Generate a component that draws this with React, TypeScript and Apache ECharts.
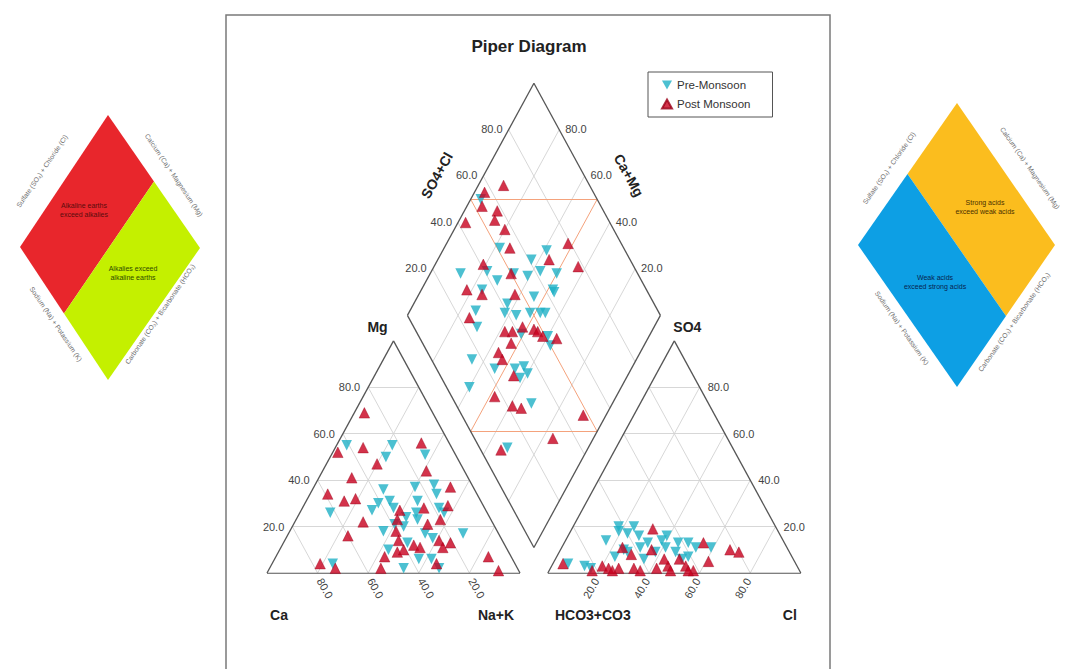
import React, { useEffect, useRef } from "react";
import * as echarts from "echarts";

// ---------------- data ----------------
const TICKS = [20, 40, 60, 80];
const TICK_LABELS = ["20.0", "40.0", "60.0", "80.0"];
const SERIES_NAMES = ["Pre-Monsoon", "Post Monsoon"];

// cations (% meq): [Ca, Mg, Na+K]
const preCations = [
  [41, 55, 4], [23, 55, 22], [28, 50, 22], [12, 51, 37], [36, 36, 28], [23, 37, 40],
  [25, 31, 44], [15, 38, 47], [16, 34, 50], [62, 26, 12], [41, 30, 29], [45, 27, 28],
  [36, 31, 33], [36, 28, 36], [33, 24, 43], [29, 23, 48], [18, 28, 54], [45, 18, 37],
  [39, 21, 40], [36, 20, 44], [29, 17, 54], [27, 15, 58], [14, 17, 69], [47, 10, 43],
  [38, 13, 49], [37, 6, 57], [32, 6, 62], [45, 2, 53], [31, 2, 67], [72, 4, 24],
  [28, 26, 46], [17, 26, 57],
];
const postCations = [
  [27, 69, 4], [46, 52, 2], [35, 54, 11], [33, 47, 20], [46, 41, 13], [11, 56, 33],
  [15, 44, 41], [59, 34, 7], [54, 31, 15], [49, 32, 19], [9, 37, 54], [14, 29, 57],
  [51, 22, 27], [60, 16, 24], [34, 27, 39], [24, 28, 48], [37, 23, 40], [20, 23, 57],
  [40, 18, 42], [41, 14, 45], [44, 9, 47], [36, 12, 52], [34, 11, 55], [25, 14, 61],
  [25, 11, 64], [21, 13, 66], [50, 7, 43], [54, 2, 44], [77, 4, 19], [72, 2, 26],
  [31, 4, 65], [9, 7, 84], [8, 1, 91], [26, 21, 53], [41, 10, 49],
];

// anions (% meq): [HCO3+CO3, SO4, Cl]
const preAnions = [
  [90, 4, 6], [84, 3, 13], [70, 14, 16], [63, 18, 19], [65, 10, 25], [60, 17, 23],
  [56, 16, 28], [58, 11, 31], [54, 13, 33], [48, 14, 38], [45, 16, 39], [48, 11, 41],
  [42, 13, 45], [38, 13, 49], [36, 11, 53], [30, 11, 59], [70, 7, 23], [64, 9, 27],
  [59, 6, 35], [53, 9, 38], [45, 9, 46], [44, 6, 50], [41, 7, 52], [62, 20, 18],
  [56, 20, 24], [82, 2, 16],
];
const postAnions = [
  [92, 4, 4], [82, 1, 17], [77, 3, 20], [75, 2, 23], [71, 2, 27], [65, 11, 24],
  [63, 8, 29], [65, 2, 33], [49, 19, 32], [54, 10, 36], [56, 2, 42], [51, 3, 46],
  [51, 1, 48], [45, 6, 49], [44, 3, 53], [42, 1, 57], [32, 13, 55], [34, 5, 61],
  [23, 10, 67], [20, 9, 71], [44, 1, 55], [74, 1, 25], [63, 1, 36], [51, 6, 43],
];

// diamond: [SO4+Cl, Ca+Mg]
const preDiamond = [
  [54, 96], [51, 78], [69, 59], [61, 63], [30, 88], [41, 78], [43, 72], [51, 67],
  [56, 61], [62, 57], [68, 50], [63, 48], [54, 54], [42, 63], [35, 76], [28, 74],
  [39, 62], [43, 57], [49, 52], [53, 48], [55, 46], [25, 70], [41, 51], [51, 40],
  [50, 37], [16, 65], [23, 54], [31, 46], [35, 43], [35, 40], [31, 42], [9, 60],
  [30, 32], [11, 32], [63, 47],
];
const postDiamond = [
  [57, 96], [66, 90], [53, 94], [58, 87], [55, 86], [57, 80], [43, 97], [55, 74],
  [79, 52], [68, 56], [78, 43], [41, 81], [29, 82], [34, 75], [47, 62], [50, 68],
  [24, 75], [35, 58], [38, 55], [43, 52], [47, 47], [48, 45], [49, 42], [54, 36],
  [35, 53], [28, 56], [28, 53], [29, 45], [17, 48], [22, 39], [25, 35], [48, 9],
  [31, 16], [8, 34],
];

// ---------------- geometry helpers (piper layout in unit space) ----------------
const GAP = 0.11;
const H = Math.sqrt(3) / 2;
const cat = (ca: number, mg: number, nak: number) => [nak / 100 + mg / 200, (mg / 100) * H];
const ani = (hco3: number, so4: number, cl: number) => [1 + GAP + cl / 100 + so4 / 200, (so4 / 100) * H];
const dia = (s: number, c: number) => [1 + GAP / 2 + (s - c) / 200, GAP * H + (H * (s + c)) / 100];

const FONT = 'Arial, "Liberation Sans", sans-serif';
const PRE_COLOR = "#1fb0c6";
const POST_COLOR = "#c8001e";
const DOWN_TRI = "path://M0,0 L10,0 L5,9 Z";
const UP_TRI = "path://M5,0 L10,9 L0,9 Z";

function buildSegments() {
  const outline: any[] = [];
  const grid: any[] = [];
  const facies: any[] = [];
  const seg = (a: number[], b: number[]) => ({ coords: [a, b] });
  outline.push(seg(cat(100, 0, 0), cat(0, 0, 100)), seg(cat(0, 0, 100), cat(0, 100, 0)), seg(cat(0, 100, 0), cat(100, 0, 0)));
  outline.push(seg(ani(100, 0, 0), ani(0, 0, 100)), seg(ani(0, 0, 100), ani(0, 100, 0)), seg(ani(0, 100, 0), ani(100, 0, 0)));
  outline.push(seg(dia(0, 0), dia(0, 100)), seg(dia(0, 100), dia(100, 100)), seg(dia(100, 100), dia(100, 0)), seg(dia(100, 0), dia(0, 0)));
  TICKS.forEach((k) => {
    grid.push(seg(cat(100 - k, k, 0), cat(0, k, 100 - k)));
    grid.push(seg(cat(k, 100 - k, 0), cat(k, 0, 100 - k)));
    grid.push(seg(cat(0, 100 - k, k), cat(100 - k, 0, k)));
    grid.push(seg(ani(100 - k, k, 0), ani(0, k, 100 - k)));
    grid.push(seg(ani(k, 100 - k, 0), ani(k, 0, 100 - k)));
    grid.push(seg(ani(0, 100 - k, k), ani(100 - k, 0, k)));
    grid.push(seg(dia(k, 0), dia(k, 100)));
    grid.push(seg(dia(0, k), dia(100, k)));
  });
  facies.push(seg(dia(50, 0), dia(50, 100)), seg(dia(0, 50), dia(100, 50)), seg(dia(50, 100), dia(100, 50)), seg(dia(0, 50), dia(50, 0)));
  return { outline, grid, facies };
}

function points(c: number[][], a: number[][], d: number[][]) {
  return [
    ...c.map((p) => cat(p[0], p[1], p[2])),
    ...a.map((p) => ani(p[0], p[1], p[2])),
    ...d.map((p) => dia(p[0], p[1])),
  ];
}

function txt(x: number, y: number, text: string, o: any = {}) {
  return {
    type: "text",
    x,
    y,
    rotation: o.rotation || 0,
    z: 10,
    silent: true,
    style: {
      text,
      fontSize: o.size || 11,
      fontFamily: FONT,
      fontWeight: o.bold ? "bold" : "normal",
      fill: o.color || "#444",
      align: o.align || "center",
      verticalAlign: o.valign || "middle",
      lineHeight: o.lineHeight,
    },
  };
}

function sideDiamonds() {
  const els: any[] = [];
  const poly = (pts: number[][], fill: string) => ({ type: "polygon", silent: true, shape: { points: pts }, style: { fill, stroke: null } });
  // left legend diamond
  const lt = [108, 115], lr = [200, 248], lb = [108, 380], ll = [20, 247];
  const lmUR = [(lt[0] + lr[0]) / 2, (lt[1] + lr[1]) / 2];
  const lmLL = [(ll[0] + lb[0]) / 2, (ll[1] + lb[1]) / 2];
  els.push(poly([lt, lmUR, lmLL, ll], "#e8262c"));
  els.push(poly([lmUR, lr, lb, lmLL], "#c4f000"));
  const a1 = (56 * Math.PI) / 180;
  const edge = { size: 6.8, color: "#6f6f6f" };
  els.push(txt(42, 171, "Sulfate (SO₄) + Chloride (Cl)", { ...edge, rotation: a1 }));
  els.push(txt(174, 175, "Calcium (Ca) + Magnesium (Mg)", { ...edge, rotation: -a1 }));
  els.push(txt(56, 324, "Sodium (Na) + Potassium (K)", { ...edge, rotation: -a1 }));
  els.push(txt(160, 314, "Carbonate (CO₃) + Bicarbonate (HCO₃)", { ...edge, rotation: a1 }));
  els.push(txt(84, 210, "Alkaline earths\nexceed alkalies", { size: 7, color: "#5a0c0c", lineHeight: 9 }));
  els.push(txt(133, 273, "Alkalies exceed\nalkaline earths", { size: 7, color: "#2f4a00", lineHeight: 9 }));

  // right legend diamond
  const rt = [957, 103], rr = [1055, 245], rb = [957, 387], rl = [858, 245];
  const rmUL = [(rt[0] + rl[0]) / 2, (rt[1] + rl[1]) / 2];
  const rmLR = [(rr[0] + rb[0]) / 2, (rr[1] + rb[1]) / 2];
  els.push(poly([rt, rr, rmLR, rmUL], "#fbbd1e"));
  els.push(poly([rmUL, rmLR, rb, rl], "#0d9fe4"));
  const a2 = (55 * Math.PI) / 180;
  els.push(txt(889, 168, "Sulfate (SO₄) + Chloride (Cl)", { ...edge, rotation: a2 }));
  els.push(txt(1030, 168, "Calcium (Ca) + Magnesium (Mg)", { ...edge, rotation: -a2 }));
  els.push(txt(902, 328, "Sodium (Na) + Potassium (K)", { ...edge, rotation: -a2 }));
  els.push(txt(1014, 322, "Carbonate (CO₃) + Bicarbonate (HCO₃)", { ...edge, rotation: a2 }));
  els.push(txt(985, 207, "Strong acids\nexceed weak acids", { size: 7, color: "#4a3000", lineHeight: 9 }));
  els.push(txt(935, 282, "Weak acids\nexceed strong acids", { size: 7, color: "#082450", lineHeight: 9 }));
  return els;
}

export default function App() {
  const ref = useRef<HTMLDivElement>(null);
  useEffect(() => {
    if (!ref.current) return;
    const chart = echarts.init(ref.current, null, { renderer: "svg" });
    const { outline, grid, facies } = buildSegments();
    const lineSeries = (data: any[], color: string, width: number, z: number) => ({
      type: "lines",
      coordinateSystem: "cartesian2d",
      polyline: false,
      silent: true,
      z,
      lineStyle: { color, width, opacity: 1, type: "solid" },
      data,
    });
    chart.setOption({
      animation: false,
      backgroundColor: "#ffffff",
      grid: { left: 267, top: 37, width: 2.2 * 253, height: 2 * 268, containLabel: false },
      xAxis: { type: "value", min: 0, max: 2.2, show: false },
      yAxis: { type: "value", min: 0, max: 2, show: false },
      legend: {
        orient: "vertical",
        left: 648,
        top: 72,
        data: [
          { name: SERIES_NAMES[0], icon: DOWN_TRI },
          { name: SERIES_NAMES[1], icon: UP_TRI },
        ],
        borderColor: "#555",
        borderWidth: 1,
        borderRadius: 0,
        padding: [7, 22, 7, 13],
        itemGap: 7,
        itemWidth: 10,
        itemHeight: 9,
        textStyle: { fontSize: 11.5, color: "#333", fontFamily: FONT },
      },
      series: [
        lineSeries(grid, "#d2d2d2", 0.9, 1),
        lineSeries(facies, "#f4a27c", 1, 2),
        lineSeries(outline, "#555555", 1.3, 3),
        {
          name: SERIES_NAMES[0],
          type: "scatter",
          symbol: "triangle",
          symbolRotate: 180,
          symbolSize: 10.5,
          z: 5,
          itemStyle: { color: PRE_COLOR },
          data: points(preCations, preAnions, preDiamond),
        },
        {
          name: SERIES_NAMES[1],
          type: "scatter",
          symbol: "triangle",
          symbolSize: 10.5,
          z: 6,
          itemStyle: { color: POST_COLOR, borderColor: "#9a0018", borderWidth: 0.5 },
          data: points(postCations, postAnions, postDiamond),
        },
      ],
    });

    const P = (p: number[]) => chart.convertToPixel({ xAxisIndex: 0, yAxisIndex: 0 }, p) as number[];
    const g: any[] = [];
    g.push({
      type: "rect",
      silent: true,
      z: 0,
      shape: { x: 226, y: 15, width: 604, height: 720 },
      style: { fill: "none", stroke: "#7a7a7a", lineWidth: 1.5 },
    });
    g.push(txt(529, 46, "Piper Diagram", { size: 17, bold: true, color: "#222" }));

    const rot60 = Math.PI / 3;
    TICKS.forEach((k, i) => {
      const lab = TICK_LABELS[i];
      let p = P(cat(100 - k, k, 0));
      g.push(txt(p[0] - 8, p[1], lab, { align: "right" }));
      p = P(cat(k, 0, 100 - k));
      g.push(txt(p[0] + 2, p[1] + 6, lab, { align: "left", rotation: -rot60 }));
      p = P(ani(0, k, 100 - k));
      g.push(txt(p[0] + 8, p[1], lab, { align: "left" }));
      p = P(ani(100 - k, 0, k));
      g.push(txt(p[0] - 2, p[1] + 6, lab, { align: "right", rotation: rot60 }));
      p = P(dia(k, 100));
      g.push(txt(p[0] - 6, p[1] - 1, lab, { align: "right" }));
      p = P(dia(100, k));
      g.push(txt(p[0] + 6, p[1] - 1, lab, { align: "left" }));
    });

    const ax = { size: 14, bold: true, color: "#222" };
    let v = P(cat(0, 100, 0));
    g.push(txt(v[0] - 16, v[1] - 14, "Mg", ax));
    v = P(ani(0, 100, 0));
    g.push(txt(v[0] + 13, v[1] - 14, "SO4", ax));
    v = P(cat(100, 0, 0));
    g.push(txt(v[0] + 12, v[1] + 42, "Ca", ax));
    v = P(cat(0, 0, 100));
    g.push(txt(v[0] - 24, v[1] + 42, "Na+K", ax));
    v = P(ani(100, 0, 0));
    g.push(txt(v[0] + 45, v[1] + 42, "HCO3+CO3", ax));
    v = P(ani(0, 0, 100));
    g.push(txt(v[0] - 11, v[1] + 42, "Cl", ax));
    v = P(dia(100, 100));
    const a61 = (61 * Math.PI) / 180;
    g.push(txt(v[0] - 97, v[1] + 92, "SO4+Cl", { ...ax, rotation: a61 }));
    g.push(txt(v[0] + 95, v[1] + 92, "Ca+Mg", { ...ax, rotation: -a61 }));

    g.push(...sideDiamonds());
    chart.setOption({ graphic: g });

    return () => chart.dispose();
  }, []);
  return <div ref={ref} style={{ position: "absolute", left: 0, top: 0, width: 1069, height: 669 }} />;
}
